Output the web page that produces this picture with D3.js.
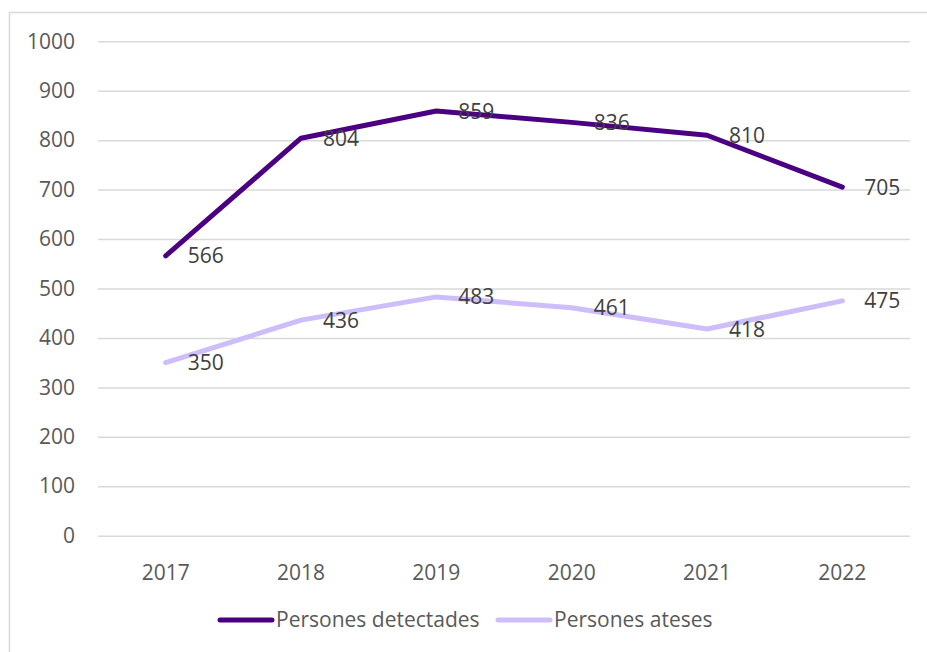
<!doctype html>
<html lang="ca">
<head>
  <meta charset="utf-8">
  <title>persones detectades i ateses</title>
  <style>
    * { margin: 0; padding: 0; box-sizing: border-box; }
    body { background: #fff; }
    svg { display: block; font-family: "Open Sans", sans-serif; }
  </style>
</head>
<body>
  <div class="chart"></div>
  <script src="https://cdn.jsdelivr.net/npm/d3@7"></script>
  <script>
    // ---------------------------------------------------------------
    //@@ data
    const years = ['2017', '2018', '2019', '2020', '2021', '2022'];
    const detectades = [566, 804, 859, 836, 810, 705];
    const ateses = [350, 436, 483, 461, 418, 475];
    const yTicks = [0, 100, 200, 300, 400, 500, 600, 700, 800, 900, 1000];
    const seriesNames = ['Persones detectades', 'Persones ateses'];
    const seriesColors = ['#4b0082', '#cdbdfb'];

    //@@ svg configuration
    const svgDim = {w: 927, h: 652};
    const plot = {l: 98, r: 910, t: 41.3, b: 535.7};
    const fs = '21px';

    const svg = d3.select('.chart').append('svg')
      .attr('width', svgDim.w)
      .attr('height', svgDim.h);

    //@@ outer frame
    svg.append('rect')
      .attr('x', 9.5).attr('y', 12.5)
      .attr('width', 940).attr('height', 660)
      .attr('fill', 'none')
      .attr('stroke', '#d9d9d9')
      .attr('stroke-width', 1.5);

    //@@ scales
    const x = d3.scaleBand().domain(years).range([plot.l, plot.r]);
    const y = d3.scaleLinear().domain([0, 1000]).range([plot.b, plot.t]);

    //@@ grid + y labels
    const axisY = d3.axisLeft(y).tickValues(yTicks).tickFormat(d3.format('d'))
      .tickSize(-(plot.r - plot.l)).tickPadding(23);
    const gY = svg.append('g').attr('transform', `translate(${plot.l},0)`).call(axisY);
    gY.select('.domain').remove();
    gY.selectAll('line').attr('stroke', '#d9d9d9').attr('stroke-width', 1.5);
    gY.selectAll('text')
      .attr('fill', '#595959')
      .style('font-size', fs)
      .style('font-family', '"Open Sans", sans-serif');

    //@@ x labels
    const axisX = d3.axisBottom(x).tickSize(0).tickPadding(29);
    const gX = svg.append('g').attr('transform', `translate(0,${plot.b})`).call(axisX);
    gX.select('.domain').remove();
    gX.selectAll('text')
      .attr('fill', '#595959')
      .style('font-size', fs)
      .style('font-family', '"Open Sans", sans-serif');

    //@@ lines
    const line = d3.line()
      .x((d, i) => x(years[i]) + x.bandwidth() / 2)
      .y(d => y(d));

    [[ateses, seriesColors[1]], [detectades, seriesColors[0]]].forEach(([vals, color]) => {
      svg.append('path')
        .datum(vals)
        .attr('d', line)
        .attr('fill', 'none')
        .attr('stroke', color)
        .attr('stroke-width', 5)
        .attr('stroke-linecap', 'round')
        .attr('stroke-linejoin', 'round');
    });

    //@@ data labels (right of point)
    [detectades, ateses].forEach(vals => {
      svg.append('g').selectAll('text')
        .data(vals)
        .enter().append('text')
        .attr('x', (d, i) => x(years[i]) + x.bandwidth() / 2 + 22)
        .attr('y', d => y(d))
        .attr('dy', '0.36em')
        .attr('fill', '#404040')
        .style('font-size', fs)
        .text(d => d);
    });

    //@@ legend
    const legend = [
      {name: seriesNames[0], color: seriesColors[0], x: 220},
      {name: seriesNames[1], color: seriesColors[1], x: 498}
    ];
    const lg = svg.append('g').selectAll('g').data(legend).enter().append('g')
      .attr('transform', d => `translate(${d.x},620)`);
    lg.append('line')
      .attr('x1', 0).attr('x2', 52)
      .attr('stroke', d => d.color)
      .attr('stroke-width', 5)
      .attr('stroke-linecap', 'round');
    lg.append('text')
      .attr('x', 56)
      .attr('dy', '0.35em')
      .attr('fill', '#595959')
      .style('font-size', fs)
      .text(d => d.name);
  </script>
</body>
</html>
